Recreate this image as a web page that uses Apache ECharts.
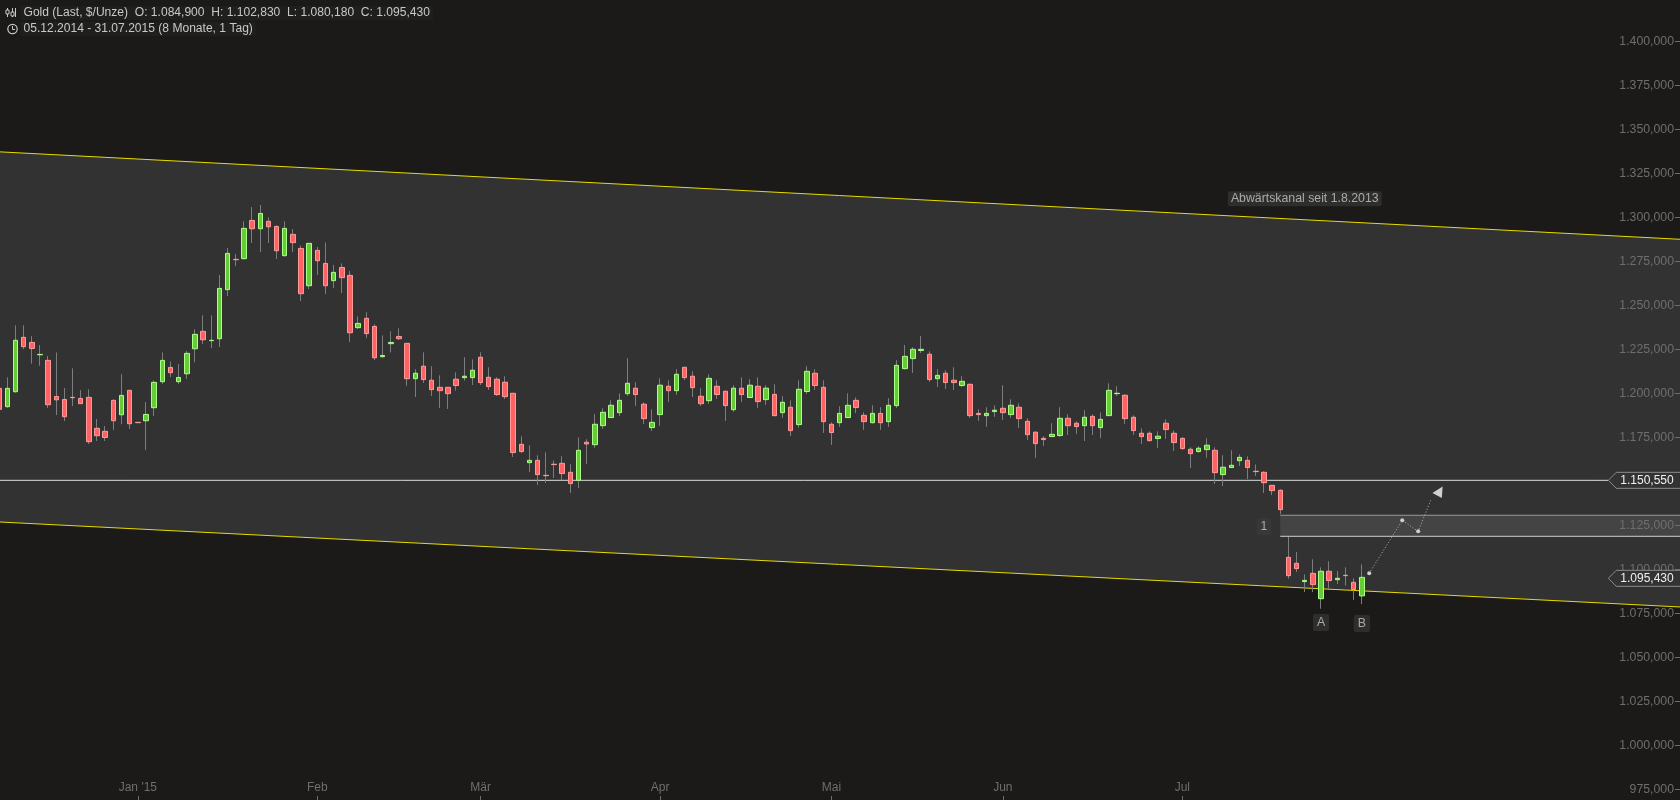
<!DOCTYPE html>
<html><head><meta charset="utf-8">
<style>html,body{margin:0;padding:0;background:#1b1a18}#c{width:1680px;height:800px}</style>
<script src="https://cdn.jsdelivr.net/npm/echarts@6/dist/echarts.min.js"></script>
</head><body><div id="c"></div>
<script>
const opens=[1202.8,1192.4,1200.9,1231.8,1228.9,1221.9,1218.7,1198.2,1196.5,1197.7,
1197.1,1197.7,1180.1,1178.4,1196,1187.8,1201.7,1183.5,1184.4,1191.8,
1206.6,1214.7,1206.6,1211.1,1225.3,1235.2,1229.9,1231,1258.9,1276.1,
1276.5,1298.2,1293.5,1297.7,1294.8,1278.2,1290.3,1282.3,1261.1,1281.2,
1273.8,1264,1271.5,1267,1237.3,1242.6,1238,1220.8,1228.2,1232.3,
1228.4,1208.3,1215.4,1207.4,1203.4,1203.4,1208,1208.9,1208.9,1220.5,
1209.1,1208,1206.3,1200,1171,1160.6,1161.9,1153.4,1159.7,1160.2,
1155.1,1150.6,1172.2,1170.8,1181.6,1186.2,1189,1199.8,1202.9,1193.8,
1180.5,1187.9,1204,1201.5,1214.8,1209.7,1198.3,1195.8,1204,1201.2,
1190.7,1202.9,1197.6,1204,1196.4,1199.4,1189,1192.1,1182.2,1201,
1211.4,1203.4,1182.4,1183.3,1186.2,1196,1187.5,1183.3,1188.6,1183.9,
1193,1214,1219.7,1224.3,1222.2,1208.3,1211.4,1207.4,1204.4,1205.1,
1188.6,1187.3,1189.6,1191.5,1187.9,1192.1,1184.1,1177.9,1174.4,1175.4,
1176,1185.8,1183,1181.6,1186.9,1180.5,1187.3,1199.8,1198.9,1186.4,
1177.3,1177.3,1174.3,1183,1177.3,1174.4,1168.2,1166.9,1168,1167.6,
1153.8,1157.8,1161.7,1161.9,1155.7,1155.1,1147.7,1144.9,1106.8,1103.4,
1093,1097.7,1083.3,1098.9,1094.1,1096.6,1092.6,1084.9];
const closes=[1190.9,1202.8,1230.1,1226.5,1225.5,1222.1,1193.5,1196.3,1186.7,1197.5,
1194.1,1172.5,1175.9,1174.9,1184.4,1198.8,1182.7,1183.3,1188,1206.2,
1218.7,1211.7,1209,1222.7,1233.5,1230.4,1230.1,1259.6,1279.5,1275.9,
1293.7,1293.5,1302.2,1294.6,1281,1293.7,1285.6,1256.6,1285.2,1275.3,
1261.1,1268.7,1265.7,1234.4,1239.7,1233.9,1220.2,1221.5,1228.9,1231,
1208.3,1211.4,1207.8,1202.1,1201.5,1199.8,1204.4,1209.7,1213.1,1206.1,
1203.8,1199.3,1198.1,1166.3,1166.9,1161.9,1153.8,1153.2,1159.5,1154.4,
1148.7,1167.6,1171.2,1182.4,1189.2,1193.2,1196,1205.7,1199.3,1185.6,
1183.5,1204.6,1201.5,1210.8,1208.9,1203.2,1194.1,1208.5,1199.3,1193,
1202.9,1199.3,1204.6,1195.3,1202.9,1187.3,1194.9,1178.8,1202.3,1212.5,
1204.4,1183.9,1177.7,1188.6,1193.2,1191.9,1183.9,1188.6,1183.3,1193.2,
1215.9,1221,1225,1225,1207.8,1210.2,1206.1,1206.1,1206.8,1187.3,
1187.9,1188.6,1190.4,1189,1193.2,1185.6,1176.5,1171.4,1173.7,1176.7,
1185.8,1181.6,1181.1,1186.4,1181.6,1185.2,1201.7,1200,1185.6,1178.8,
1175.4,1173.1,1175.6,1179.4,1172,1168.6,1165.7,1168.8,1170.5,1154.9,
1158,1159.1,1163.6,1157.8,1155.5,1149.2,1144.7,1133.9,1096.4,1100.4,
1093.7,1091.3,1098.9,1093.6,1094.9,1096.4,1088.5,1095.43];
const lows=[1187.1,1191.8,1200.3,1225.1,1216.8,1215.7,1191.6,1187.6,1184.2,1192.8,
1193.9,1171.2,1172.9,1172.9,1179.1,1182.5,1179.7,1183.3,1167.8,1187.1,
1205.3,1209.2,1205.3,1208.1,1217.6,1228,1225.7,1226.3,1255.3,1272.3,
1275.9,1285.4,1280.3,1285.4,1276.3,1277.6,1280.3,1252.4,1259.2,1267.2,
1256.4,1259.8,1257,1229.1,1236.5,1231.4,1218.9,1220.2,1223.2,1230.3,
1204.2,1197.9,1205.9,1198.5,1191.7,1191.1,1201.5,1207.2,1204.7,1204.7,
1201.9,1198.5,1196.8,1163.8,1166.1,1155.3,1147.9,1149.1,1151.9,1150.6,
1143.4,1146.2,1159.9,1169,1179.7,1186,1187.1,1198.5,1192.8,1182.6,
1178.6,1181.5,1195.1,1199.1,1207.6,1197.9,1192.8,1194,1196.8,1184.3,
1189.4,1195.1,1197.4,1191.7,1193.4,1186.9,1186,1175.8,1180.5,1199.6,
1201.9,1177.5,1170.7,1180.9,1186,1188.8,1179.2,1182.8,1179.2,1180.9,
1191.7,1213.5,1211.6,1222.9,1206.5,1203.6,1202.5,1201.9,1203.6,1186,
1184.3,1180.9,1186.6,1184.9,1186,1180.3,1173.5,1163.3,1170.1,1175.2,
1175.2,1176.3,1176.9,1172.9,1176.3,1174.6,1187.1,1198.5,1182.6,1176.3,
1171.2,1172.6,1169,1174.1,1167.2,1167.8,1157.6,1166.3,1163.3,1148.5,
1147.3,1157.6,1158.7,1151.3,1153,1143.4,1142.2,1131.4,1094.7,1098.5,
1087.1,1087.1,1077.6,1089,1091.7,1090.7,1082.6,1080.18];
const highs=[1208.1,1209,1238.6,1238.6,1232.5,1227.4,1221.2,1223.2,1203,1214.2,
1201.8,1202.2,1185.4,1181.4,1196.5,1210.9,1201.7,1183.5,1195,1207.3,
1223.2,1218.1,1216.6,1224,1236.3,1244.3,1244.3,1267.2,1282.5,1279.1,
1297.7,1305.8,1307,1300,1295.4,1297.7,1293.3,1284,1285.2,1283.1,
1285.7,1272.9,1273.8,1269.5,1243.7,1246,1239.2,1232.9,1235.2,1236.9,
1228.4,1213.7,1223.3,1215.4,1210.2,1203.4,1211.9,1220.5,1219.3,1223.3,
1214.8,1209.1,1209.7,1200,1175.6,1170.5,1164.8,1166.5,1161.9,1164.2,
1159.7,1175,1173.9,1188.3,1191.5,1196,1200,1219.9,1206.3,1194.9,
1190.9,1208.5,1207.4,1213.7,1214.8,1212.5,1202.9,1210.8,1207.4,1201.2,
1204.6,1209.1,1208,1209.1,1204.6,1205.1,1198.3,1196,1207.4,1215.4,
1213.7,1207.4,1183.5,1192.6,1200,1197.7,1189.2,1193.2,1192.1,1197.2,
1218.8,1227.5,1226.2,1232.6,1223.9,1213.7,1213.1,1214.8,1209.7,1205.7,
1190.9,1192.1,1193.2,1204.6,1196.6,1194.3,1185.8,1178.4,1175.6,1183,
1192.1,1188.1,1184.1,1190.4,1188.1,1189.2,1205.7,1204,1199.4,1187.5,
1180.1,1178.4,1178.4,1185.2,1179,1175,1169.3,1169.9,1174.4,1169.3,
1164.8,1167.6,1165.3,1164.2,1159.6,1155.7,1147.7,1145.4,1118.5,1109.8,
1097.1,1105.7,1101.1,1104.5,1099,1101.1,1094.9,1102.83];

const slotCount=207;
const monthIndex=[17,39,59,81,102,123,145];
const monthLabels=["Jan '15","Feb","Mär","Apr","Mai","Jun","Jul"];
const priceTicks=[975,1000,1025,1050,1075,1100,1125,1150,1175,1200,1225,1250,1275,1300,1325,1350,1375,1400];
const channelUpper=[[0,1337.2],[206,1287.5]];
const channelLower=[[0,1126.9],[206,1078.6]];
const supportLine=[[0,1150.55],[197.2,1150.55]];
const bandTop=[[157,1130.7],[206,1130.7]];
const bandBottom=[[157,1118.75],[206,1118.75]];
const forecastPath=[[167.9,1097.7],[171.95,1127.8],[173.9,1121.6],[175.5,1139.9]];
const arrowHead=[[176.9,1147],[175.65,1143.3],[176.8,1140.5]];
const priceMarkers=[[197.2,1150.55,'1.150,550'],[197.2,1095.43,'1.095,430']];
const notes=[[160,1310.6,'Abwärtskanal seit 1.8.2013'],[155,1124.3,'1'],[162,1069.8,'A'],[167,1069.2,'B']];
const headerLine1='Gold (Last, $/Unze)  O: 1.084,900  H: 1.102,830  L: 1.080,180  C: 1.095,430';
const headerLine2='05.12.2014 - 31.07.2015 (8 Monate, 1 Tag)';

const FONT='"Liberation Sans",Arial,sans-serif';
const categories=Array.from({length:slotCount},(_,i)=>String(i));
const monthAt=i=>monthIndex.indexOf(i);
const fullCandles=opens.map((o,i)=>[o,closes[i],lows[i],highs[i]]);
const bodyOnly=opens.map((o,i)=>[o,closes[i],Math.min(o,closes[i]),Math.max(o,closes[i])]);

function polygonItem(pointsFn,style){
  return function(p,api){
    return {type:'polygon',shape:{points:pointsFn().map(v=>api.coord(v))},style:style,silent:true};
  };
}
function fmtPrice(v){const s=String(Math.round(v));return s.length>3?s[0]+'.'+s.slice(1)+',000':s+',000';}
function lineSeries(data,color,z,extra){
  return Object.assign({type:'line',xAxisIndex:1,yAxisIndex:0,data:data,symbol:'none',silent:true,z:z,
    lineStyle:{color:color,width:1},animation:false},extra||{});
}

const chart=echarts.init(document.getElementById('c'),null,{renderer:'canvas'});
chart.setOption({
  animation:false,
  backgroundColor:'#1b1a18',
  title:[
    {text:headerLine1,left:20.5,top:6,padding:[1,3],backgroundColor:'#1f1f1d',textStyle:{color:'#c8c8c8',fontSize:12.07,fontWeight:'normal',fontFamily:FONT}},
    {text:headerLine2,left:20.5,top:22,padding:[1,3],backgroundColor:'#1f1f1d',textStyle:{color:'#c8c8c8',fontSize:12.07,fontWeight:'normal',fontFamily:FONT}}
  ],
  graphic:[
    {type:'circle',shape:{cx:12.5,cy:29,r:4.7},style:{fill:'none',stroke:'#c8c8c8',lineWidth:1.2},z:10},
    {type:'polyline',shape:{points:[[12.5,26],[12.5,29.5],[15,29.5]]},style:{fill:'none',stroke:'#c8c8c8',lineWidth:1},z:10},
    {type:'line',shape:{x1:7.5,y1:8,x2:7.5,y2:17},style:{stroke:'#c8c8c8',lineWidth:1},z:10},
    {type:'rect',shape:{x:6,y:10,width:3,height:4},style:{fill:'#1b1a18',stroke:'#c8c8c8',lineWidth:1},z:10},
    {type:'line',shape:{x1:12.5,y1:8,x2:12.5,y2:17},style:{stroke:'#c8c8c8',lineWidth:1},z:10},
    {type:'rect',shape:{x:11,y:12,width:3,height:4},style:{fill:'#1b1a18',stroke:'#c8c8c8',lineWidth:1},z:10},
    {type:'line',shape:{x1:15.5,y1:8,x2:15.5,y2:17},style:{stroke:'#c8c8c8',lineWidth:1},z:10}
  ],
  grid:[
    {left:-4.94,width:1689.12,top:41.3,height:748,show:false,outerBoundsMode:'none'},
    {left:0,width:1680,top:41.3,height:748,show:false,outerBoundsMode:'none'}
  ],
  xAxis:[
    {type:'category',gridIndex:0,data:categories,boundaryGap:true,position:'bottom',offset:10.7,z:3,
     axisLine:{show:false},splitLine:{show:false},
     axisTick:{show:true,inside:true,length:4,alignWithLabel:true,interval:i=>monthAt(i)>=0,lineStyle:{color:'#6e6e6e'}},
     axisLabel:{show:true,inside:true,margin:6,interval:i=>monthAt(i)>=0,color:'#6e6e6e',fontSize:12,fontFamily:FONT,
       formatter:(v,i)=>monthLabels[monthAt(i)]||''}},
    {type:'value',gridIndex:0,min:-0.5,max:206.5,show:false,position:'top',splitLine:{show:false}},
    {type:'value',gridIndex:1,min:0,max:1,show:false,splitLine:{show:false}}
  ],
  yAxis:[
    {type:'value',gridIndex:0,min:975,max:1400,interval:25,position:'right',show:false,splitLine:{show:false}},
    {type:'value',gridIndex:1,min:975,max:1400,interval:25,position:'right',z:3,
     axisLine:{show:false},splitLine:{show:false},axisTick:{show:false},
     axisLabel:{show:true,inside:true,margin:6,padding:[0,0,2,0],color:'#6e6e6e',fontSize:12.3,fontFamily:FONT,formatter:fmtPrice}}
  ],
  series:[
    {type:'custom',xAxisIndex:1,yAxisIndex:0,z:1,silent:true,data:[[0,0]],clip:true,
     renderItem:polygonItem(()=>channelUpper.concat(channelLower.slice().reverse()),{fill:'#323232'})},
    lineSeries(channelUpper,'#e6dc00',2),
    lineSeries(channelLower,'#e6dc00',2),
    lineSeries(supportLine,'#dcdcdc',2),
    {type:'candlestick',xAxisIndex:0,yAxisIndex:0,z:3,silent:true,data:fullCandles,barWidth:1,
     itemStyle:{color:'#7d7d7d',color0:'#7d7d7d',borderColor:'#7d7d7d',borderColor0:'#7d7d7d',borderWidth:1}},
    {type:'candlestick',xAxisIndex:0,yAxisIndex:0,z:4,silent:true,data:bodyOnly,barWidth:5,
     itemStyle:{color:'#66cc33',color0:'#ff6262',borderColor:'#aaff88',borderColor0:'#ff9a9a',borderWidth:1}},
    {type:'custom',xAxisIndex:1,yAxisIndex:0,z:2,silent:true,data:[[0,0]],
     renderItem:polygonItem(()=>bandTop.concat(bandBottom.slice().reverse()),{fill:'#444444'})},
    lineSeries(bandTop,'#9a9a9a',5),
    lineSeries(bandBottom,'#cfcfcf',5),
    lineSeries(forecastPath.map((p,i)=>({value:p,symbol:i<3?'circle':'none'})),'#b4b4b4',6,{symbol:'circle',symbolSize:4,showSymbol:true,showAllSymbol:true,
      itemStyle:{color:'#d0d0d0'},lineStyle:{color:'#b4b4b4',width:1,type:[1,2]}}),
    {type:'custom',xAxisIndex:1,yAxisIndex:0,z:6,silent:true,data:[[0,0]],
     renderItem:polygonItem(()=>arrowHead,{fill:'#d0d0d0'})},
    {type:'custom',xAxisIndex:2,yAxisIndex:1,z:3,silent:true,clip:false,data:priceTicks.map(v=>[1,v]),
     encode:{x:0,y:1},
     renderItem:function(p,api){
       const c=api.coord([1,priceTicks[p.dataIndex]]);
       const y=Math.round(c[1])+0.5;
       return {type:'line',shape:{x1:c[0]-5,y1:y,x2:c[0],y2:y},style:{stroke:'#6e6e6e',lineWidth:1}};
     }},
    {type:'custom',xAxisIndex:1,yAxisIndex:0,z:7,silent:true,data:priceMarkers,clip:false,
     encode:{x:0,y:1},
     renderItem:function(p,api){
       const m=priceMarkers[p.dataIndex];
       const c=api.coord([m[0],m[1]]);
       const xr=api.coord([206,m[1]])[0];
       const x=c[0],y=c[1]+p.dataIndex;
       return {type:'group',children:[
         {type:'polygon',shape:{points:[[x,y],[x+8,y-8],[xr+2,y-8],[xr+2,y+8],[x+8,y+8]]},style:{fill:'#333333',stroke:'#8c8c8c',lineWidth:1}},
         {type:'text',style:{x:x+12,y:y+0.5,text:m[2],fill:'#f0f0f0',font:'12px '+FONT,textAlign:'left',textVerticalAlign:'middle'}}
       ]};
     }},
    {type:'scatter',xAxisIndex:1,yAxisIndex:0,z:8,silent:true,symbolSize:0,
     data:notes.map((n,i)=>({value:[n[0],n[1]],label:{formatter:n[2],padding:i?[3,4,2,4]:[2,3,1,3],backgroundColor:i===1?'#3a3a3a':'#333333'}})),
     label:{show:true,position:'inside',color:'#c8c8c8',fontSize:12.3,fontFamily:FONT,borderRadius:2}}
  ]
});
</script></body></html>
